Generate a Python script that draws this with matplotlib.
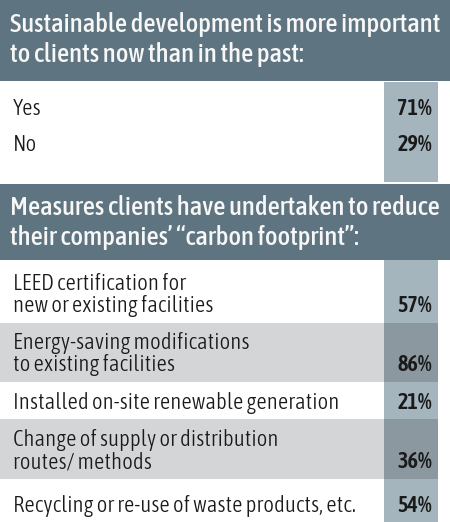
import matplotlib.pyplot as plt
from matplotlib.patches import Rectangle

# Survey data
q1_title = ["Sustainable development is more important",
            "to clients now than in the past:"]
q1_labels = ["Yes", "No"]
q1_values = [71, 29]

q2_title = ["Measures clients have undertaken to reduce",
            "their companies\u2019 \u201ccarbon footprint\u201d:"]
q2_labels = ["LEED certification for\nnew or existing facilities",
             "Energy-saving modifications\nto existing facilities",
             "Installed on-site renewable generation",
             "Change of supply or distribution\nroutes/ methods",
             "Recycling or re-use of waste products, etc."]
q2_values = [57, 86, 21, 36, 54]

HEAD = "#5e7480"
COL_LIGHT = "#a4b5bd"
COL_DARK = "#8b989f"
ROW_GRAY = "#d4d5d7"
TXT = "#1a1a1a"

body_font = ["Asap Condensed", "DejaVu Sans"]
head_font = ["Asap Condensed", "DejaVu Sans"]

fig = plt.figure(figsize=(4.5, 5.22), dpi=100)
ax = fig.add_axes([0, 0, 1, 1])
ax.set_xlim(0, 450)
ax.set_ylim(522, 0)
ax.axis("off")

col_x0, col_x1 = 384, 438
pct_x = 432


def header(y0, y1, lines, baselines):
    ax.add_patch(Rectangle((0, y0), 450, y1 - y0, color=HEAD, lw=0))
    for line, b in zip(lines, baselines):
        ax.text(10, b, line, color="#f7f7f7", fontsize=19.3, fontweight=500,
                family=head_font, va="baseline", ha="left")


def body(x, b, s, size=16.5, **kw):
    ax.text(x, b, s, color=TXT, fontsize=size, family=body_font, va="baseline", **kw)


# section 1
header(0, 81, q1_title, [32, 62])
ax.add_patch(Rectangle((col_x0, 82), col_x1 - col_x0, 100, color=COL_LIGHT, lw=0))
for lab, val, b in zip(q1_labels, q1_values, [115, 151]):
    body(13, b, lab, fontweight=300)
    body(pct_x, b, f"{val}%", size=16, fontweight=600, ha="right")

# section 2
header(184, 260, q2_title, [215, 245])
row_edges = [260, 323, 382, 419, 479, 522]
for i, (lab, val) in enumerate(zip(q2_labels, q2_values)):
    y0, y1 = row_edges[i], row_edges[i + 1]
    shaded = i % 2 == 1
    if shaded:
        ax.add_patch(Rectangle((0, y0), col_x0, y1 - y0, color=ROW_GRAY, lw=0))
    ax.add_patch(Rectangle((col_x0, y0), col_x1 - col_x0, y1 - y0,
                           color=COL_DARK if shaded else COL_LIGHT, lw=0))
    lines = lab.split("\n")
    last = y1 - 11 if len(lines) > 1 else y1 - 10
    for k, line in enumerate(lines):
        b = last - 22 * (len(lines) - 1 - k)
        body(13, b, line, fontweight=300)
    body(pct_x, last, f"{val}%", size=16, fontweight=600, ha="right")

fig.savefig("out.png", dpi=100)
